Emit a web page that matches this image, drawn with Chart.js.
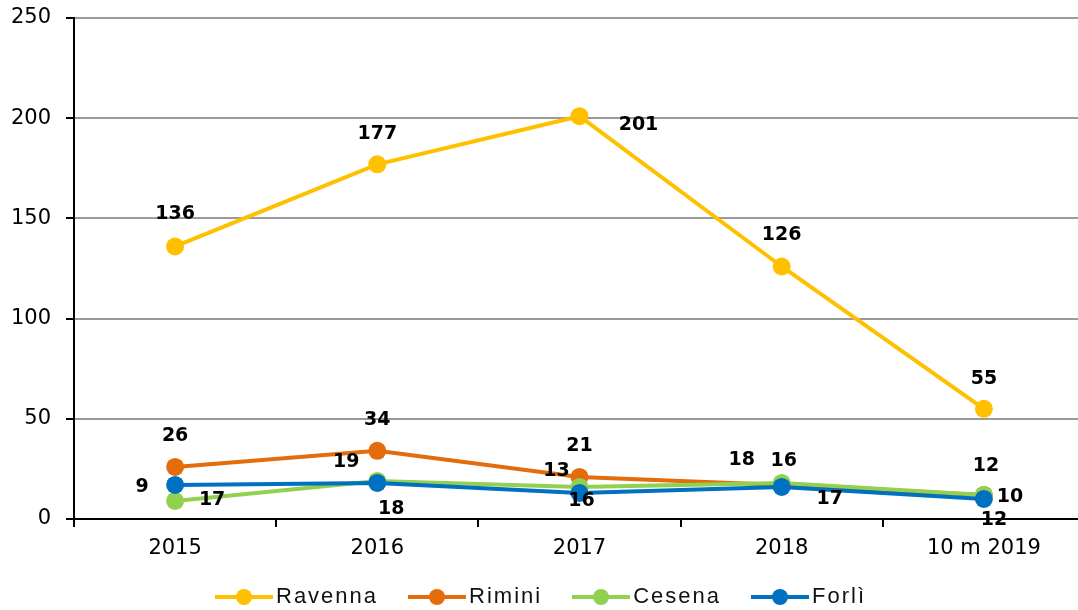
<!DOCTYPE html>
<html>
<head>
<meta charset="utf-8">
<script src="https://cdn.jsdelivr.net/npm/chart.js@4.4.1/dist/chart.umd.min.js"></script>
<style>
  html, body { margin: 0; padding: 0; background: #fff; overflow: hidden; }
  #wrap { position: relative; width: 1094px; height: 610px; }
  #legend {
    position: absolute; left: 215px; top: 582px; height: 28px;
    display: flex; align-items: center;
    font-family: "Liberation Sans", Arial, sans-serif; font-size: 22px;
    letter-spacing: 2px; color: #111;
  }
  .item { display: flex; align-items: center; margin-right: 30px; }
  .swatch { position: relative; width: 58px; height: 18px; margin-right: 3px; }
  .swatch .ln { position: absolute; left: 0; right: 0; top: 8px; height: 4px; }
  .swatch .dot { position: absolute; left: 21px; top: 2px; width: 16px; height: 16px; border-radius: 50%; }
</style>
</head>
<body>
<div id="wrap">
  <canvas id="chart" width="1094" height="610"></canvas>
  <div id="legend"></div>
</div>
<script>
const categories = ['2015', '2016', '2017', '2018', '10 m 2019'];
const ravenna = [136, 177, 201, 126, 55];
const rimini = [26, 34, 21, 17, 12];
const cesena = [9, 19, 16, 18, 12];
const forli = [17, 18, 13, 16, 10];
const yMin = 0, yMax = 250, yStep = 50;

// where each value label sits, relative to its point (px)
const labelOffsets = {
    Ravenna: [[0, -32], [0, -30], [59, 9], [0, -31], [0, -30]],
    Rimini: [[0, -31], [0, -31], [0, -31], [48, 14], [10, 25]],
    Cesena: [[-33, -14], [-31, -19], [2, 14], [-40, -23], [2, -29]],
    'Forlì': [[37, 15], [14, 26], [-23, -22], [2, -26], [26, -2]]
};

function series(label, data, color, order) {
    return {
        label: label,
        data: data,
        borderColor: color,
        backgroundColor: color,
        borderWidth: 4,
        pointRadius: 9,
        pointBorderWidth: 0,
        pointBackgroundColor: color,
        tension: 0,
        order: order
    };
}

const datasets = [
    series('Ravenna', ravenna, '#FFC000', 4),
    series('Rimini', rimini, '#E46C0A', 3),
    series('Cesena', cesena, '#92D050', 2),
    series('Forlì', forli, '#0070C0', 1)
];

// etichette dei valori
const valueLabels = {
    id: 'valueLabels',
    afterDatasetsDraw(chart) {
        const ctx = chart.ctx;
        ctx.save();
        ctx.font = 'bold 19px "DejaVu Sans", Verdana, sans-serif';
        ctx.fillStyle = '#000';
        ctx.textAlign = 'center';
        ctx.textBaseline = 'middle';
        chart.data.datasets.forEach((ds, i) => {
            const meta = chart.getDatasetMeta(i);
            const offs = labelOffsets[ds.label];
            meta.data.forEach((pt, j) => {
                const o = offs[j];
                ctx.fillText(String(ds.data[j]), pt.x + o[0], pt.y + o[1]);
            });
        });
        ctx.restore();
    }
};

new Chart(document.getElementById('chart'), {
    type: 'line',
    data: { labels: categories, datasets: datasets },
    options: {
        responsive: false,
        animation: false,
        layout: { padding: { top: 18, left: 0, right: 0, bottom: 0 } },
        plugins: { legend: { display: false }, tooltip: { enabled: false } },
        scales: {
            x: {
                offset: true,
                grid: { offset: true, drawOnChartArea: false, drawTicks: true, tickLength: 8, tickColor: '#000', lineWidth: 2 },
                border: { color: '#000', width: 2 },
                ticks: { color: '#000', padding: 9, font: { family: '"DejaVu Sans", Verdana, sans-serif', size: 21 } },
                afterFit: (s) => { s.height = 91; s.paddingLeft = 0; s.paddingRight = 0; }
            },
            y: {
                min: yMin, max: yMax,
                grid: { color: '#9a9a9a', lineWidth: 2, tickLength: 8, tickColor: '#000' },
                border: { color: '#000', width: 2 },
                ticks: { stepSize: yStep, color: '#000', padding: 15, font: { family: '"DejaVu Sans", Verdana, sans-serif', size: 21 } },
                afterFit: (s) => { s.width = 74; s.paddingTop = 0; s.paddingBottom = 0; }
            }
        }
    },
    plugins: [valueLabels]
});

// legenda
const legend = document.getElementById('legend');
datasets.forEach(ds => {
    const item = document.createElement('div');
    item.className = 'item';
    item.innerHTML = `<div class="swatch"><div class="ln" style="background:${ds.borderColor}"></div>` +
        `<div class="dot" style="background:${ds.borderColor}"></div></div><span>${ds.label}</span>`;
    legend.appendChild(item);
});
</script>
</body>
</html>
